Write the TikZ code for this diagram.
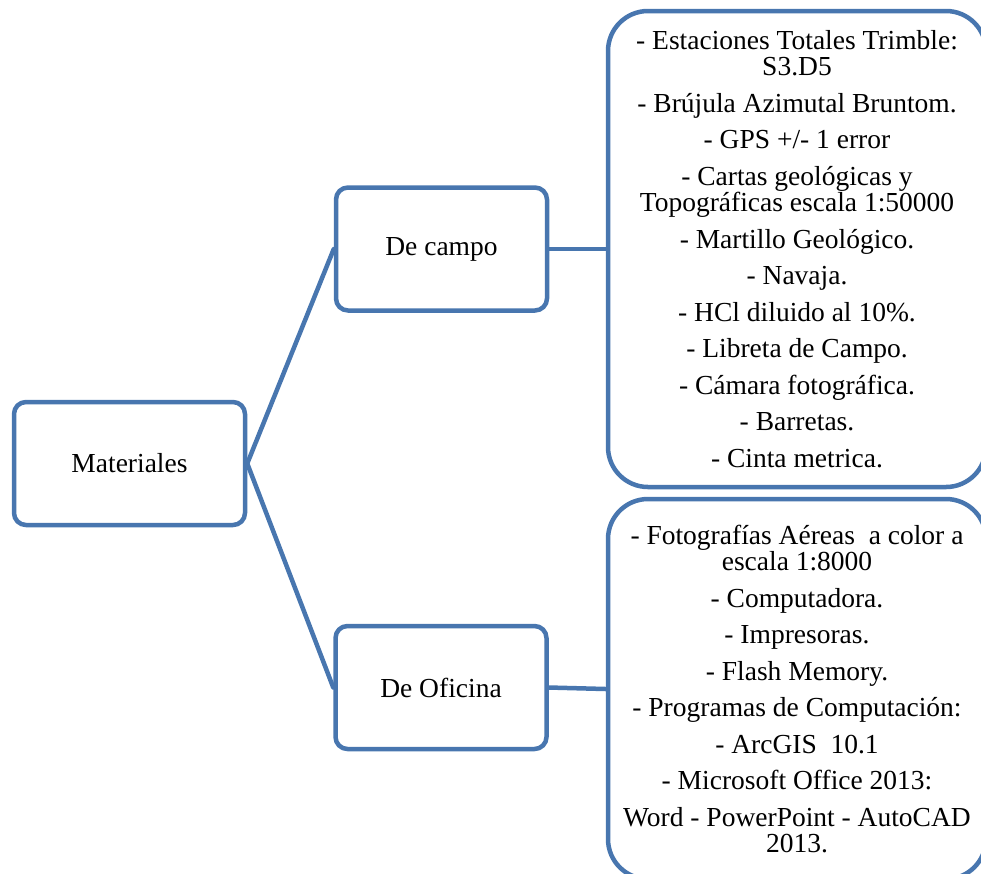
\documentclass[tikz,border=0pt]{standalone}
\usepackage{fontspec}
\setmainfont{Liberation Serif}
\definecolor{azulborde}{RGB}{72,118,175}
\begin{document}
\begin{tikzpicture}[x=1pt,y=-1pt,line join=round,line cap=round,
	caja/.style={draw=azulborde,line width=4.5pt,rounded corners=12pt,fill=white,
		minimum width=231pt,minimum height=123pt,font=\fontsize{27.5}{26}\selectfont},
	lista/.style={draw=azulborde,line width=4.5pt,rounded corners=40pt,fill=white,
		minimum width=378pt,align=center,font=\fontsize{27.5}{26.5}\selectfont},
	enlace/.style={draw=azulborde,line width=4.5pt}]
	\clip (0,0) rectangle (981,873);
	\node[caja] (mat) at (129.5,463.5) {Materiales};
	\node[caja,minimum width=211pt] (campo) at (441.5,249) {De campo};
	\node[caja,minimum width=211pt] (oficina) at (441,687.5) {De Oficina};
	\node[lista,minimum height=476pt] (listcampo) at (797,249) {%
		- Estaciones Totales Trimble:\\ S3.D5\\[10pt]
		- Brújula Azimutal Bruntom.\\[10pt]
		- GPS +/- 1 error\\[10pt]
		- Cartas geológicas y\\ Topográficas escala 1:50000\\[10pt]
		- Martillo Geológico.\\[10pt]
		- Navaja.\\[10pt]
		- HCl diluido al 10\%.\\[10pt]
		- Libreta de Campo.\\[10pt]
		- Cámara fotográfica.\\[10pt]
		- Barretas.\\[10pt]
		- Cinta metrica.};
	\node[lista,minimum height=380pt] (listoficina) at (797,689) {%
		- Fotografías Aéreas \ a color a\\ escala 1:8000\\[10pt]
		- Computadora.\\[10pt]
		- Impresoras.\\[10pt]
		- Flash Memory.\\[10pt]
		- Programas de Computación:\\[10pt]
		- ArcGIS \ 10.1\\[10pt]
		- Microsoft Office 2013:\\[10pt]
		Word - PowerPoint - AutoCAD\\ 2013.};
	\draw[enlace] (mat.east)--(campo.west);
	\draw[enlace] (mat.east)--(oficina.west);
	\draw[enlace] (campo.east)--(listcampo.west);
	\draw[enlace] (oficina.east)--(listoficina.west);
\end{tikzpicture}
\end{document}
